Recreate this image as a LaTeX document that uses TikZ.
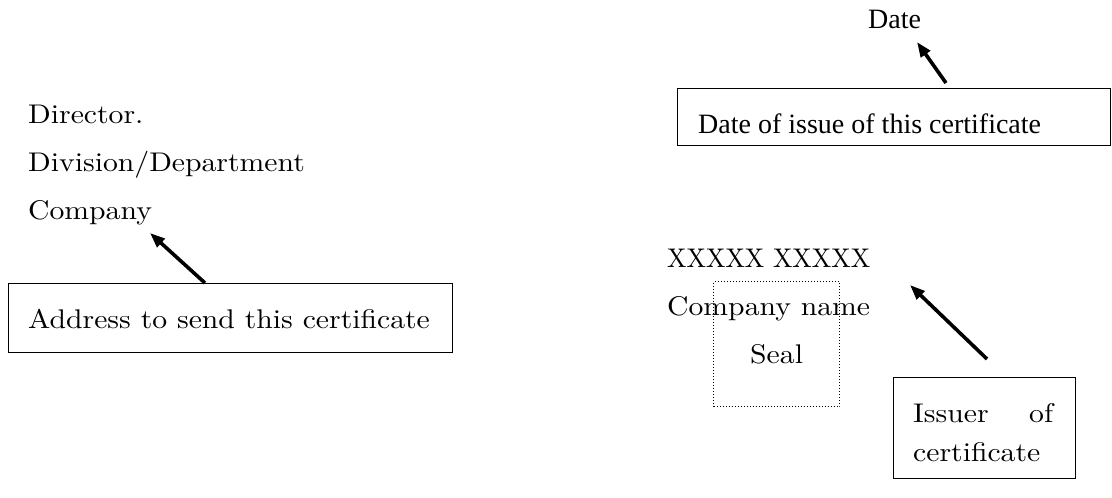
\documentclass[tikz,border=0pt]{standalone}
\usepackage{fontspec}
\newfontfamily\timesfont{Liberation Serif}
\newfontfamily\lmwide{lmroman10-regular.otf}[FakeStretch=1.1]
\newfontfamily\lmnarrow{lmroman10-regular.otf}[FakeStretch=0.96]
\usetikzlibrary{arrows.meta}
\tikzset{
  lbl/.style={inner sep=0pt, anchor=base west, font=\lmwide\fontsize{27}{34}\selectfont},
  xlbl/.style={inner sep=0pt, anchor=base west, font=\lmnarrow\fontsize{27}{34}\selectfont},
  tlbl/.style={inner sep=0pt, anchor=base west, font=\timesfont\fontsize{28}{34}\selectfont},
  framebox/.style={draw, line width=1.3pt, inner sep=0pt, anchor=north west},
  sealbox/.style={draw, dotted, line width=1pt, inner sep=0pt, anchor=north west},
  pointer/.style={line width=3.6pt, -{Triangle[length=15pt,width=11pt]}},
}
\begin{document}
\begin{tikzpicture}[x=1pt,y=-1pt]
\useasboundingbox (0,0) rectangle (1112,498);
% left column
\node[lbl] (director) at (28,123) {Director.};
\node[lbl] (division) at (28,171) {Division/Department};
\node[lbl] (company) at (28,219) {Company};
\node[framebox, minimum width=444pt, minimum height=69pt] (addrbox) at (8,283) {};
\node[lbl] (addr) at (28,328) {Address to send this certificate};
\coordinate (addrtail) at (205,283);
\coordinate (addrtip) at (150,233);
\draw[pointer] (addrtail) -- (addrtip);
% date
\node[tlbl] (date) at (868,28) {Date};
\node[framebox, minimum width=433pt, minimum height=57pt] (datebox) at (677,88) {};
\node[tlbl] (dateissue) at (698,133) {Date of issue of this certificate};
\coordinate (datetail) at (946,83);
\coordinate (datetip) at (917,42);
\draw[pointer] (datetail) -- (datetip);
% issuer
\node[sealbox, minimum width=126pt, minimum height=125pt] (seal) at (713,281) {};
\node[xlbl] (xname) at (667,267) {XXXXX XXXXX};
\node[lbl] (cname) at (667,315) {Company name};
\node[lbl] (sealtxt) at (750,363) {Seal};
\node[framebox, minimum width=182pt, minimum height=101pt] (issuerbox) at (893,377) {};
\node[lbl, anchor=north west, align=left] (issuer) at (913,403) {\makebox[140pt][s]{Issuer\hfill of}\\[5pt]certificate};
\coordinate (issuertail) at (987,359);
\coordinate (issuertip) at (910,285);
\draw[pointer] (issuertail) -- (issuertip);
\end{tikzpicture}
\end{document}
